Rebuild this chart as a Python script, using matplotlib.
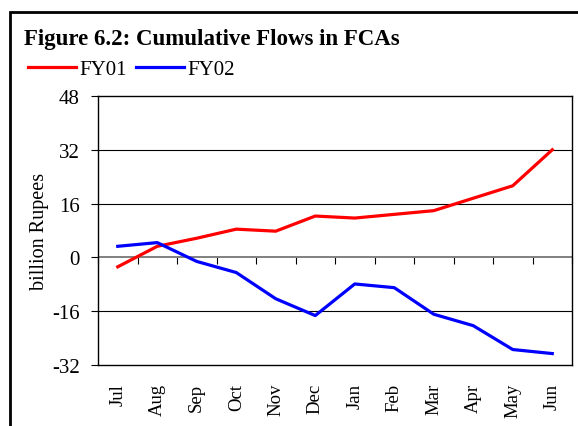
import numpy as np
import matplotlib
matplotlib.use('Agg')
import matplotlib.pyplot as plt
from matplotlib.patches import Rectangle

plt.rcParams['font.family'] = ['Liberation Serif', 'DejaVu Serif']
plt.rcParams['axes.unicode_minus'] = False

months = ['Jul', 'Aug', 'Sep', 'Oct', 'Nov', 'Dec',
          'Jan', 'Feb', 'Mar', 'Apr', 'May', 'Jun']
fy01 = [-2.8, 3.3, 5.7, 8.4, 7.8, 12.3, 11.7, 12.8, 13.9, 17.6, 21.3, 32.0]
fy02 = [3.3, 4.4, -1.2, -4.5, -12.3, -17.3, -7.9, -9.0, -16.9, -20.3, -27.4, -28.6]
yticks = [-32, -16, 0, 16, 32, 48]

fig = plt.figure(figsize=(5.78, 4.27), dpi=100)
ax = fig.add_axes([98 / 578, 1 - 366 / 427, 474 / 578, 269 / 427])

x = np.arange(len(months))
l1, = ax.plot(x, fy01, color='#ff0000', lw=2.3, label='FY01')
l2, = ax.plot(x, fy02, color='#0000ff', lw=2.3, label='FY02')

ax.set_xlim(-0.5, len(months) - 0.5)
ax.set_ylim(-32, 48)
ax.set_yticks(yticks)
ax.tick_params(axis='y', direction='out', length=5, width=0.8, pad=8, labelsize=15)
ax.set_xticks(x)
ax.set_xticklabels(months, rotation=90, fontsize=13.5)
ax.tick_params(axis='x', length=0, pad=13)
for y in yticks[1:-1]:
    if y == 0:
        continue
    ax.axhline(y, color='black', lw=0.8, zorder=1)
ax.axhline(0, color='#808080', lw=1.4, zorder=1)
for s in ax.spines.values():
    s.set_linewidth(1.0)

# category boundary ticks on the zero line
sec = ax.secondary_xaxis(0.4)
sec.set_xticks(np.arange(len(months) + 1) - 0.5)
sec.set_xticklabels([])
sec.tick_params(axis='x', direction='out', length=5, width=0.8, color='black')
sec.spines['bottom'].set_visible(False)

ax.set_ylabel('billion Rupees', fontsize=14.5, labelpad=2)

fig.text(24 / 578, 1 - 40 / 427, 'Figure 6.2: Cumulative Flows in FCAs',
         fontsize=16.5, fontweight='bold', va='center', ha='left')
fig.legend(handles=[l1, l2], loc='center left', bbox_to_anchor=(28 / 578, 1 - 70 / 427),
           ncol=2, frameon=False, fontsize=15, handlelength=2.3, handletextpad=0.15,
           columnspacing=0.45, borderaxespad=0, borderpad=0)

fig.add_artist(Rectangle((10 / 578, -0.1), 1.2, 1.1 - 12.5 / 427, fill=False,
                         lw=2, edgecolor='black', transform=fig.transFigure))

fig.savefig('out.png', dpi=100)
